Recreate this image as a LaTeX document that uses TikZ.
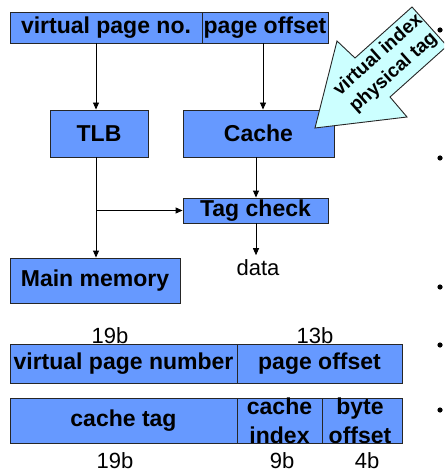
\documentclass[tikz,border=0pt]{standalone}
\usepackage{fontspec}
\setmainfont{Liberation Sans}
\usetikzlibrary{arrows.meta}
\definecolor{boxblue}{RGB}{102,153,255}
\definecolor{arrowcyan}{RGB}{204,255,255}
\begin{document}
\begin{tikzpicture}[x=1pt,y=-1pt,
  box/.style={draw=black!85, line width=0.9pt, fill=boxblue, inner sep=0pt,
    font=\fontsize{23}{27}\selectfont\bfseries},
  celltext/.style={inner sep=0pt, anchor=base, font=\fontsize{23}{27}\selectfont\bfseries},
  lbl/.style={inner sep=0pt, font=\fontsize{22}{26}\selectfont},
  conn/.style={line width=0.9pt, -{Triangle[length=7pt,width=6pt]}},
  bigarrow/.style={draw=black!85, line width=0.9pt, fill=arrowcyan},
  dot/.style={fill=black}
]
\useasboundingbox (0,0) rectangle (444,470);

% top address bar
\node[box, minimum width=192pt, minimum height=31pt] (vpn) at (106,27.5) {virtual page no.};
\node[box, minimum width=126pt, minimum height=31pt] (po) at (265,27.5) {page offset};

% blocks
\node[box, minimum width=98pt, minimum height=47pt] (tlb) at (99,133.5) {TLB};
\node[box, minimum width=151pt, minimum height=47pt] (cache) at (258.5,133.5) {Cache};
\node[box, minimum width=145pt, minimum height=25pt] (tag) at (255.5,210.5) {Tag check};
\node[box, minimum width=170pt, minimum height=45pt] (mm) at (95,280.5) {Main memory};
\node[lbl] (data) at (258,267.5) {data};

% connectors
\coordinate (xl) at (96,0);
\coordinate (xr) at (263,0);
\coordinate (xm) at (256,0);
\draw[conn] (vpn.south -| xl) -- (tlb.north -| xl);
\draw[conn] (po.south -| xr) -- (cache.north -| xr);
\draw[conn] (cache.south -| xm) -- (tag.north -| xm);
\draw[conn] (tlb.south -| xl) -- (mm.north -| xl);
\draw[conn] (xl |- tag.west) -- (tag.west);
\draw[conn, shorten >=4pt] (tag.south -| xm) -- (data.north -| xm);

% big arrow
\begin{scope}
  \clip (0,0) rectangle (444,470);
  \draw[bigarrow] (315,128) -- (337,41) -- (355,58) -- (412,7) -- (447,46)
    -- (390,97) -- (407,117) -- cycle;
\end{scope}
\node[inner sep=0pt, rotate=41.8, align=center,
  font=\fontsize{19}{23}\selectfont\bfseries] (vipt) at (386,64) {virtual index\\physical tag};

% bottom bars
\node[lbl] (b19) at (110,336) {19b};
\node[lbl] (b13) at (315,336) {13b};
\node[box, minimum width=227pt, minimum height=39pt] (vpn2) at (123.5,363.5) {virtual page number};
\node[box, minimum width=165pt, minimum height=39pt] (po2) at (319.5,363.5) {page offset};

\node[box, minimum width=227pt, minimum height=45pt] (ctag) at (123.5,420.5) {cache tag};
\node[box, minimum width=85pt, minimum height=45pt] (idx) at (279.5,420.5) {};
\node[box, minimum width=80pt, minimum height=45pt] (boff) at (362,420.5) {};
\begin{scope}
  \clip (idx.north west) rectangle (boff.south east);
  \node[celltext] (idxa) at (279.5,414.5) {cache};
  \node[celltext] (idxb) at (279.5,443.5) {index};
  \node[celltext] (boffa) at (360,414.5) {byte};
  \node[celltext] (boffb) at (360,443.5) {offset};
\end{scope}
\draw[draw=black!85, line width=0.9pt] (idx.south west) -- (boff.south east);

\node[lbl] (c19) at (115,460.5) {19b};
\node[lbl] (c9) at (282,460.5) {9b};
\node[lbl] (c4) at (367,460.5) {4b};

% bullets at right edge
\fill[dot] (440,30) circle (2.6);
\fill[dot] (440,158) circle (2.6);
\fill[dot] (440,287) circle (2.6);
\fill[dot] (440,345) circle (2.6);
\fill[dot] (440,410) circle (2.6);
\end{tikzpicture}
\end{document}
